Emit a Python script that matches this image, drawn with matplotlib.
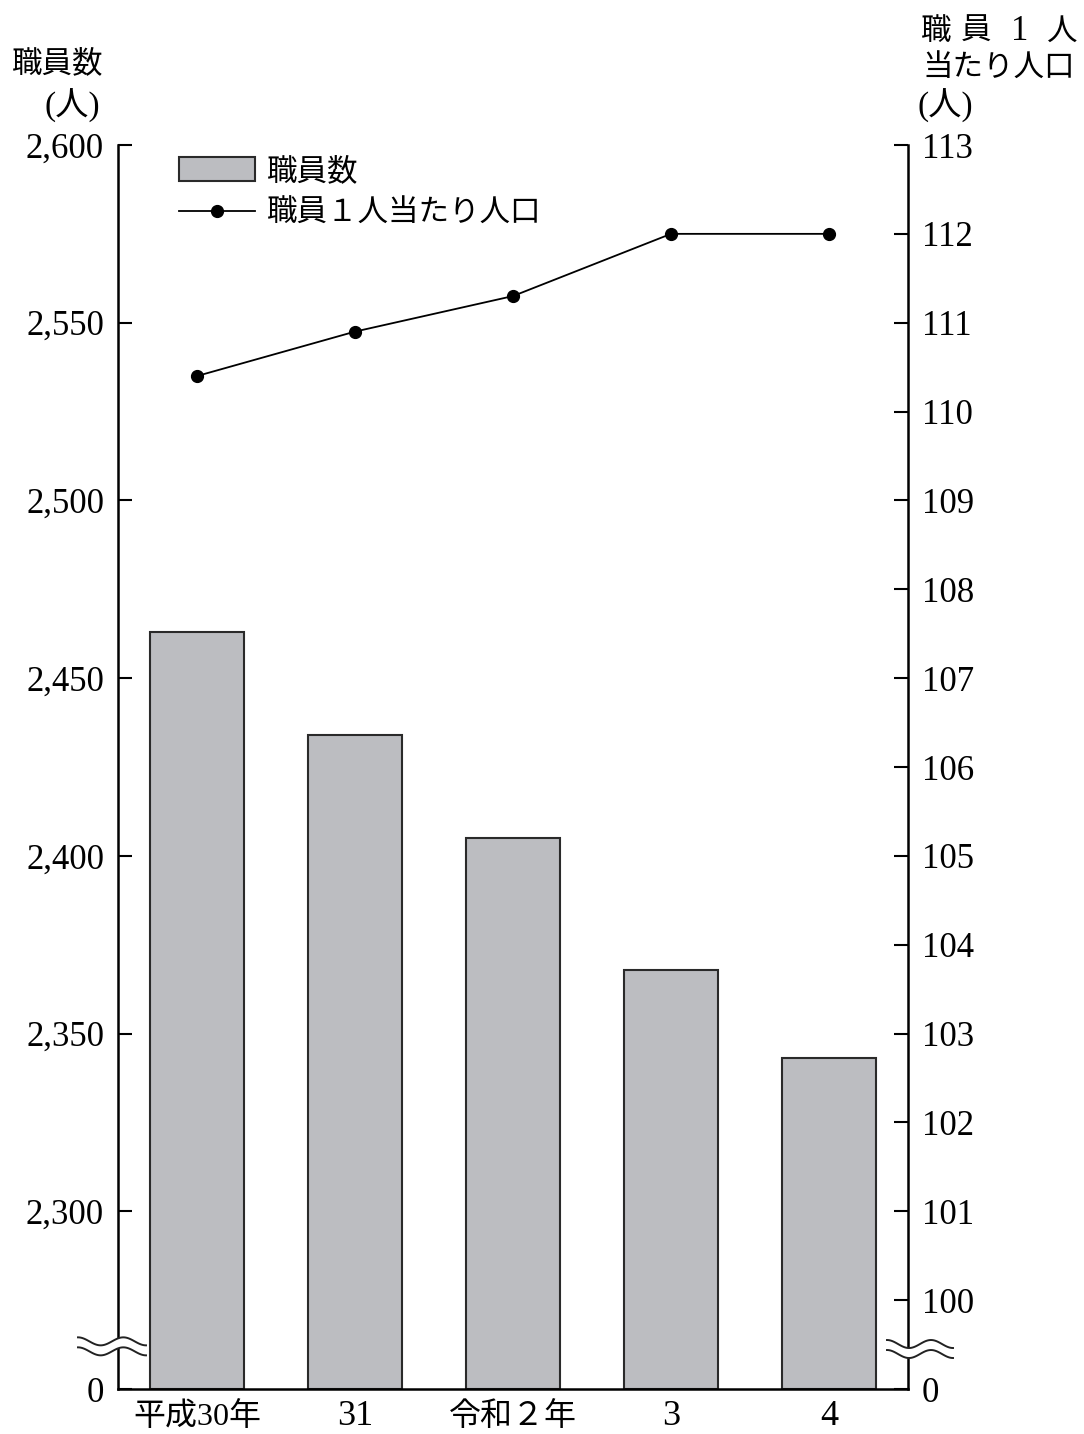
import matplotlib
matplotlib.use('Agg')
import matplotlib.pyplot as plt
from matplotlib.lines import Line2D
from matplotlib.patches import Polygon
import numpy as np

# data
years = ['平成30年', '31', '令和２年', '3', '4']
staff = [2463, 2434, 2405, 2368, 2343]
per_staff = [110.4, 110.9, 111.3, 112.0, 112.0]

left_ticks = [2300, 2350, 2400, 2450, 2500, 2550, 2600]
right_ticks = [100, 101, 102, 103, 104, 105, 106, 107, 108, 109, 110, 111, 112, 113]
left_floor = 2250   # axis is broken, bottom shown as 0
right_floor = 99

plt.rcParams['font.family'] = ['Liberation Serif', 'Noto Sans CJK JP']
plt.rcParams['font.size'] = 22

W, H = 1084, 1434
fig = plt.figure(figsize=(W / 100, H / 100), dpi=100)
ax = fig.add_axes([118 / W, 1 - 1389 / H, (908 - 118) / W, (1389 - 145) / H])
ax2 = ax.twinx()

x = np.arange(len(years))
bars = ax.bar(x, np.array(staff) - left_floor, bottom=left_floor, width=0.6,
              color='#bcbdc1', edgecolor='#2a2a2a', linewidth=1.5)
line, = ax2.plot(x, per_staff, color='black', lw=1.3, marker='o', ms=8.5)

ax.set_xlim(-0.5, 4.5)
ax.set_ylim(left_floor, left_ticks[-1])
ax2.set_ylim(right_floor, right_ticks[-1])

ax.set_yticks([left_floor] + left_ticks, ['0'] + [f'{t:,}' for t in left_ticks])
ax2.set_yticks([right_floor] + right_ticks, ['0'] + [str(t) for t in right_ticks])
ax.set_xticks(x, years)

ax.tick_params(axis='y', direction='in', length=10, width=1.5, pad=10, labelsize=25)
ax2.tick_params(axis='y', direction='in', length=10, width=1.5, pad=10, labelsize=25)
ax.tick_params(axis='x', length=0, pad=26)
for lbl in ax.get_xticklabels():
    lbl.set_va('baseline')
    lbl.set_fontsize(26 if lbl.get_text().isascii() else 23)

for s in ['top', 'right']:
    ax.spines[s].set_visible(False)
for s in ['top', 'left', 'bottom']:
    ax2.spines[s].set_visible(False)
ax.spines['left'].set_linewidth(1.8)
ax.spines['bottom'].set_linewidth(1.8)
ax2.spines['right'].set_linewidth(1.8)

ax2.legend([bars, line], ['職員数', '職員１人当たり人口'], loc='upper left',
           bbox_to_anchor=(0.077, 0.99), frameon=False, borderpad=0,
           borderaxespad=0, handlelength=2.5, handleheight=0.8,
           handletextpad=0.4, labelspacing=0.42)

# axis titles
fig.text(12 / W, 1 - 65 / H, '職員数', ha='left', va='center')
fig.text(72 / W, 1 - 106 / H, '(人)', ha='center', va='center', fontsize=24)
for ch, cx in zip(['職', '員', '1', '人'], [936, 976, 1020, 1062]):
    fig.text(cx / W, 1 - 32 / H, ch, ha='center', va='center',
             fontsize=25 if ch == '1' else 22)
fig.text(922 / W, 1 - 68 / H, '当たり人口', ha='left', va='center')
fig.text(945 / W, 1 - 106 / H, '(人)', ha='center', va='center', fontsize=24)


# wavy break marks across the spines
def draw_break(axis, yval, x0, x1):
    _, py = axis.transData.transform((0, yval))
    xs = np.linspace(x0, x1, 80)
    wave = 4 * np.cos((xs - x0) / (x1 - x0) * 3 * np.pi)
    upper = py + 5 + wave
    lower = py - 5 + wave
    inv = fig.transFigure.inverted()
    up = inv.transform(np.column_stack([xs, upper]))
    lo = inv.transform(np.column_stack([xs, lower]))
    fig.add_artist(Polygon(np.vstack([up, lo[::-1]]), closed=True,
                           facecolor='white', edgecolor='none',
                           transform=fig.transFigure, zorder=5))
    for pts in (up, lo):
        fig.add_artist(Line2D(pts[:, 0], pts[:, 1], color='#222222', lw=1.4,
                              transform=fig.transFigure, zorder=6))


draw_break(ax, 2262, 78, 146)
draw_break(ax2, 99.45, 887, 953)

fig.savefig('out.png', dpi=100)
